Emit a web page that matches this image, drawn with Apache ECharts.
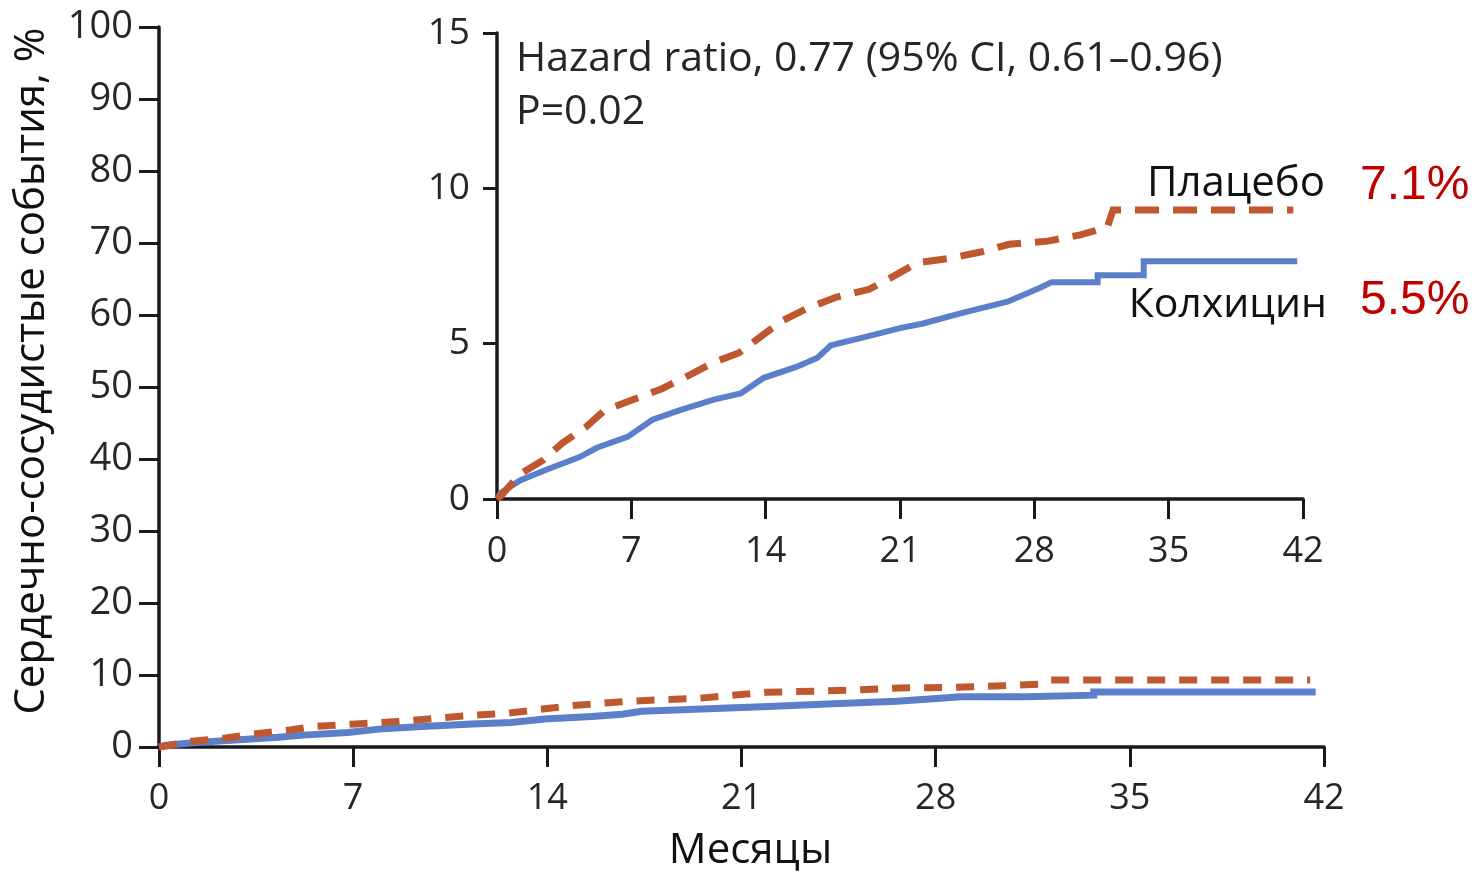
<!DOCTYPE html>
<html>
<head>
<meta charset="utf-8">
<script src="https://cdn.jsdelivr.net/npm/echarts@6/dist/echarts.min.js"></script>
<style>
  html, body { margin: 0; padding: 0; background: #ffffff; }
  #chart { width: 1477px; height: 873px; }
</style>
</head>
<body>
<div id="chart"></div>
<script>
// Cumulative incidence of cardiovascular events (%), by month of follow-up
const placeboMonths = [0, 0.2, 1.2, 2.4, 3.4, 4.6, 5.6, 7.1, 8.6, 9.9, 11.3, 12.6, 13.9, 14.9, 16.2, 17.7, 19.4, 20.6, 21.9, 23.6, 25.2, 26.7, 28.7, 30.4, 31.8, 32.1, 41.5];
const placeboRisk   = [0, 0.1, 0.8, 1.25, 1.8, 2.3, 2.85, 3.2, 3.55, 3.95, 4.4, 4.7, 5.3, 5.75, 6.15, 6.5, 6.75, 7.15, 7.6, 7.75, 7.95, 8.2, 8.3, 8.5, 8.75, 9.3, 9.3];

const colchicineMonths = [0, 0.2, 1.2, 2.6, 4.3, 5.2, 6.8, 8.1, 9.5, 11.3, 12.7, 13.9, 15.6, 16.7, 17.4, 19.1, 21.0, 22.2, 24.3, 26.6, 28.3, 28.9, 31.3, 31.3, 33.7, 33.7, 41.7];
const colchicineRisk   = [0, 0.2, 0.6, 0.95, 1.35, 1.65, 2.0, 2.55, 2.85, 3.2, 3.4, 3.9, 4.25, 4.55, 4.95, 5.2, 5.5, 5.65, 6.0, 6.35, 6.8, 6.98, 6.98, 7.2, 7.2, 7.65, 7.65];

// Axis ranges
const monthTicks = { min: 0, max: 42, interval: 7 };
const mainRisk = { min: 0, max: 100, interval: 10 };
const insetRisk = { min: 0, max: 15, interval: 5 };

// Text shown on the chart
const hazardText = 'Hazard ratio, 0.77 (95% CI, 0.61–0.96)';
const pValueText = 'P=0.02';
const groupNames = ['Плацебо', 'Колхицин'];
const groupRates = ['7.1%', '5.5%'];

const toPairs = (xs, ys) => xs.map((x, i) => [x, ys[i]]);
const placeboData = toPairs(placeboMonths, placeboRisk);
const colchicineData = toPairs(colchicineMonths, colchicineRisk);

const FONT = '"Open Sans", "Noto Sans", "DejaVu Sans", sans-serif';
const INK = '#262626';
const BLUE = '#5b80c9';
const RUST = '#c0582f';
const RED = '#c00000';
const AXIS = '#1a1a1a';

const axisLineStyle = { show: true, onZero: false, lineStyle: { color: AXIS, width: 3.5 } };

function xAxisFor(gridIndex, opts) {
  return Object.assign({
    gridIndex, type: 'value',
    min: monthTicks.min, max: monthTicks.max, interval: monthTicks.interval,
    axisLine: axisLineStyle,
    axisTick: { show: true, inside: false, length: 20, lineStyle: { color: AXIS, width: 3 } },
    axisLabel: { color: INK, fontFamily: FONT, fontSize: 36, margin: 34 },
    splitLine: { show: false }
  }, opts);
}

function yAxisFor(gridIndex, range, opts) {
  return Object.assign({
    gridIndex, type: 'value',
    min: range.min, max: range.max, interval: range.interval,
    axisLine: axisLineStyle,
    axisTick: { show: true, inside: false, length: 20, lineStyle: { color: AXIS, width: 3 } },
    axisLabel: { color: INK, fontFamily: FONT, fontSize: 38, margin: 26 },
    splitLine: { show: false }
  }, opts);
}

function curve(name, data, gridIndex, color, width, dash, z) {
  return {
    name, type: 'line', data,
    xAxisIndex: gridIndex, yAxisIndex: gridIndex,
    showSymbol: false, symbol: 'none', smooth: false,
    lineStyle: { color, width, type: dash ? dash : 'solid', cap: 'butt', join: 'miter' },
    z
  };
}

const chart = echarts.init(document.getElementById('chart'), null, { renderer: 'canvas' });

chart.setOption({
  animation: false,
  backgroundColor: '#ffffff',
  grid: [
    { left: 159, right: 153, top: 27, bottom: 126, containLabel: false, outerBoundsMode: 'none' },
    { left: 497, right: 174, top: 33, bottom: 374, containLabel: false, outerBoundsMode: 'none' }
  ],
  xAxis: [
    xAxisFor(0, {
      name: 'Месяцы', nameLocation: 'middle', nameGap: 83,
      nameTextStyle: { color: '#111', fontFamily: FONT, fontSize: 42, padding: [0, 0, 0, 18] }
    }),
    xAxisFor(1, {
      axisTick: { show: true, length: 20, lineStyle: { color: AXIS, width: 3 } },
      axisLabel: { color: INK, fontFamily: FONT, fontSize: 36, margin: 35 }
    })
  ],
  yAxis: [
    yAxisFor(0, mainRisk, {
      name: 'Сердечно-сосудистые события, %', nameLocation: 'middle', nameGap: 106,
      nameTextStyle: { color: '#111', fontFamily: FONT, fontSize: 42, padding: [0, 0, 0, 32] }
    }),
    yAxisFor(1, insetRisk, {
      axisTick: { show: true, length: 14, lineStyle: { color: AXIS, width: 3 } },
      axisLabel: { color: INK, fontFamily: FONT, fontSize: 37, margin: 27 }
    })
  ],
  series: [
    curve('Колхицин', colchicineData, 0, BLUE, 7, null, 2),
    curve('Плацебо', placeboData, 0, RUST, 7, [18, 14], 3),
    curve('Колхицин', colchicineData, 1, BLUE, 6, null, 2),
    curve('Плацебо', placeboData, 1, RUST, 7, [24, 14], 3)
  ],
  graphic: [
    { type: 'text', left: 516, top: 39, style: { text: hazardText, fill: INK, font: '41px ' + FONT } },
    { type: 'text', left: 516, top: 92, style: { text: pValueText, fill: INK, font: '41px ' + FONT } },
    { type: 'text', right: 152, top: 163, style: { text: groupNames[0], fill: '#111', font: '42px ' + FONT } },
    { type: 'text', right: 150, top: 285, style: { text: groupNames[1], fill: '#111', font: '41px ' + FONT } },
    { type: 'text', left: 1360, top: 162, style: { text: groupRates[0], fill: RED, font: '48px "Liberation Sans", Arial, sans-serif' } },
    { type: 'text', left: 1360, top: 277, style: { text: groupRates[1], fill: RED, font: '48px "Liberation Sans", Arial, sans-serif' } }
  ]
});
</script>
</body>
</html>
